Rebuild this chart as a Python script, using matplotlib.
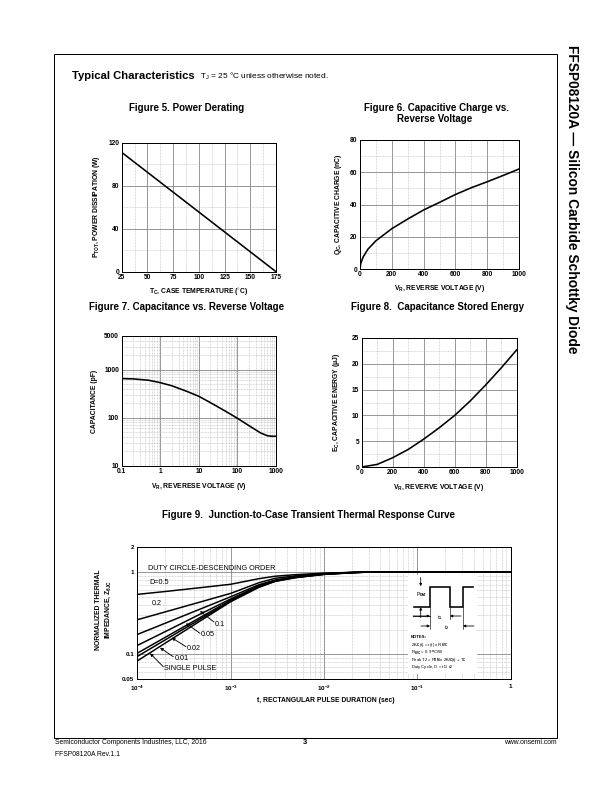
import matplotlib
matplotlib.use('Agg')
import matplotlib.pyplot as plt
from matplotlib.patches import Rectangle

plt.rcParams['font.family'] = ['Liberation Sans', 'DejaVu Sans']
plt.rcParams['mathtext.fontset'] = 'custom'
plt.rcParams['mathtext.rm'] = 'Liberation Sans'
plt.rcParams['mathtext.bf'] = 'Liberation Sans:bold'
plt.rcParams['mathtext.it'] = 'Liberation Sans:italic'
plt.rcParams['mathtext.default'] = 'bf'

# ---------------- data ----------------
fig5_temp = [25, 175]
fig5_power = [111, 0]

fig6_voltage = [0, 5, 20, 50, 100, 200, 300, 400, 500, 600, 700, 800, 900, 1000]
fig6_charge = [0, 3.5, 7.5, 12.3, 17.5, 25, 31, 36.6, 41.3, 46.2, 50.4, 54.1, 58, 62]

fig7_voltage = [0.1, 0.2, 0.5, 1, 2, 5, 10, 20, 50, 100, 200, 400, 600, 800, 1000]
fig7_cap = [650, 640, 600, 535, 460, 350, 278, 205, 135, 97, 68, 48, 42, 41, 41]

fig8_voltage = [0, 100, 200, 300, 400, 500, 600, 700, 800, 900, 1000]
fig8_energy = [0, 0.5, 1.8, 3.4, 5.4, 7.6, 10.0, 12.8, 15.9, 19.2, 22.7]

fig9_t = [1e-4, 2e-4, 5e-4, 1e-3, 2e-3, 3e-3, 5e-3, 1e-2, 2e-2, 3e-2, 1e-1, 1]
fig9_z_d05 = [0.535, 0.58, 0.65, 0.71, 0.83, 0.89, 0.93, 0.97, 0.99, 1.0, 1.0, 1.0]
fig9_z_d02 = [0.263, 0.328, 0.44, 0.55, 0.74, 0.84, 0.90, 0.96, 0.99, 1.0, 1.0, 1.0]
fig9_z_d01 = [0.174, 0.239, 0.364, 0.50, 0.70, 0.80, 0.88, 0.95, 0.99, 1.0, 1.0, 1.0]
fig9_z_d005 = [0.128, 0.189, 0.318, 0.47, 0.68, 0.79, 0.87, 0.945, 0.985, 1.0, 1.0, 1.0]
fig9_z_d002 = [0.103, 0.161, 0.291, 0.455, 0.67, 0.78, 0.865, 0.94, 0.985, 1.0, 1.0, 1.0]
fig9_z_d001 = [0.094, 0.150, 0.278, 0.445, 0.66, 0.775, 0.86, 0.94, 0.98, 1.0, 1.0, 1.0]
fig9_z_single = [0.083, 0.137, 0.265, 0.435, 0.65, 0.77, 0.855, 0.935, 0.98, 1.0, 1.0, 1.0]

# ---------------- figure ----------------
W, H = 612, 792
fig = plt.figure(figsize=(W / 72, H / 72), dpi=72)


def add_ax(x0, y0, x1, y1):
    return fig.add_axes([x0 / W, 1 - y1 / H, (x1 - x0) / W, (y1 - y0) / H])


def T(x, y, s, **kw):
    kw.setdefault('ha', 'center')
    kw.setdefault('va', 'center')
    return fig.text(x / W, 1 - y / H, s, **kw)


def style(ax):
    for s in ax.spines.values():
        s.set_linewidth(1.0)
        s.set_color('black')
    ax.tick_params(which='both', length=0, pad=2.5)
    ax.grid(which='major', color='#808080', lw=0.8, ls='-')
    ax.grid(which='minor', color='#b8b8b8', lw=0.5, ls=(0, (2, 1)))
    ax.set_axisbelow(True)


TL = dict(fontsize=6.6, fontweight='bold')
TL9 = dict(fontsize=6.2, fontweight='bold')
LBL = dict(fontsize=6.8, fontweight='bold')
TTL = dict(fontsize=9.8, fontweight='bold')
LW = 1.6

# ---- Figure 5 ----
ax5 = add_ax(121.7, 142.7, 276, 271.7)
ax5.plot(fig5_temp, fig5_power, color='black', lw=LW, solid_capstyle='butt')
ax5.set_xlim(25, 175)
ax5.set_ylim(0, 120)
ax5.set_xticks([25, 50, 75, 100, 125, 150, 175], ['25', '50', '75', '100', '125', '150', '175'], **TL)
ax5.set_xticks([37.5, 62.5, 87.5, 112.5, 137.5, 162.5], minor=True)
ax5.set_yticks([0, 40, 80, 120], ['0', '40', '80', '120'], **TL)
ax5.set_yticks([20, 60, 100], minor=True)
style(ax5)
T(187, 108.3, 'Figure 5. Power Derating', **TTL)
T(199, 292, r'T$_C$, CASE TEMPERATURE ($^{\circ}$C)', **LBL)
T(97, 207, r'P$_{TOT}$, POWER DISSIPATION (W)', rotation=90, **LBL)

# ---- Figure 6 ----
ax6 = add_ax(360, 140, 519, 269)
ax6.plot(fig6_voltage, fig6_charge, color='black', lw=LW)
ax6.set_xlim(0, 1000)
ax6.set_ylim(0, 80)
ax6.set_xticks([0, 200, 400, 600, 800, 1000], ['0', '200', '400', '600', '800', '1000'], **TL)
ax6.set_xticks([100, 300, 500, 700, 900], minor=True)
ax6.set_yticks([0, 20, 40, 60, 80], ['0', '20', '40', '60', '80'], **TL)
ax6.set_yticks([10, 30, 50, 70], minor=True)
style(ax6)
T(436, 107.8, 'Figure 6. Capacitive Charge vs.', **TTL)
T(435, 118.6, 'Reverse Voltage', **TTL)
T(439.5, 288, r'V$_R$, REVERSE VOLTAGE (V)', **LBL)
T(339, 204.5, r'Q$_C$, CAPACITIVE CHARGE (nC)', rotation=90, **LBL)

# ---- Figure 7 ----
ax7 = add_ax(121.7, 336, 276, 465.7)
ax7.plot(fig7_voltage, fig7_cap, color='black', lw=LW)
ax7.set_xscale('log')
ax7.set_yscale('log')
ax7.set_xlim(0.1, 1000)
ax7.set_ylim(10, 5000)
ax7.set_xticks([0.1, 1, 10, 100, 1000], ['0.1', '1', '10', '100', '1000'], **TL)
ax7.set_yticks([10, 100, 1000, 5000], ['10', '100', '1000', '5000'], **TL)
ax7.xaxis.set_minor_formatter(plt.NullFormatter())
ax7.yaxis.set_minor_formatter(plt.NullFormatter())
style(ax7)
T(187, 307.3, 'Figure 7. Capacitance vs. Reverse Voltage', **TTL)
T(199, 486, r'V$_R$, REVERESE VOLTAGE (V)', **LBL)
T(95, 401, 'CAPACITANCE (pF)', rotation=90, **LBL)

# ---- Figure 8 ----
ax8 = add_ax(361.7, 338, 516.7, 467)
ax8.plot(fig8_voltage, fig8_energy, color='black', lw=LW)
ax8.set_xlim(0, 1000)
ax8.set_ylim(0, 25)
ax8.set_xticks([0, 200, 400, 600, 800, 1000], ['0', '200', '400', '600', '800', '1000'], **TL)
ax8.set_xticks([100, 300, 500, 700, 900], minor=True)
ax8.set_yticks([0, 5, 10, 15, 20, 25], ['0', '5', '10', '15', '20', '25'], **TL)
ax8.set_yticks([2.5, 7.5, 12.5, 17.5, 22.5], minor=True)
style(ax8)
T(437.5, 307.3, 'Figure 8.  Capacitance Stored Energy', **TTL)
T(439, 487, r'V$_R$, REVERVE VOLTAGE (V)', **LBL)
T(337, 402.5, r'E$_C$, CAPACITIVE ENERGY (μJ)', rotation=90, **LBL)

# ---- Figure 9 ----
ax9 = add_ax(137.3, 547.3, 510.7, 679)
for z in [fig9_z_d05, fig9_z_d02, fig9_z_d01, fig9_z_d005, fig9_z_d002, fig9_z_d001, fig9_z_single]:
    ax9.plot(fig9_t, z, color='black', lw=1.5)
ax9.set_xscale('log')
ax9.set_yscale('log')
ax9.set_xlim(1e-4, 1)
ax9.set_ylim(0.05, 2)
ax9.set_xticks([1e-4, 1e-3, 1e-2, 1e-1, 1],
               [r'10$^{-4}$', r'10$^{-3}$', r'10$^{-2}$', r'10$^{-1}$', '1'], **TL9)
ax9.set_yticks([0.05, 0.1, 1, 2], ['0.05', '0.1', '1', '2'], **TL9)
ax9.xaxis.set_minor_formatter(plt.NullFormatter())
ax9.yaxis.set_minor_formatter(plt.NullFormatter())
style(ax9)
ax9.tick_params(axis='x', pad=4.5)
ax9.tick_params(axis='y', pad=3.0)
T(308.3, 515, 'Figure 9.  Junction-to-Case Transient Thermal Response Curve', **TTL)
T(326, 700, 't, RECTANGULAR PULSE DURATION (sec)', **LBL)
T(104, 610, 'NORMALIZED THERMAL\n' + r'IMPEDANCE, Z$_{θJC}$', rotation=90,
  linespacing=1.15, **LBL)

TXT9 = dict(fontsize=7.2, ha='left', va='center')
T(148, 568, 'DUTY CIRCLE-DESCENDING ORDER', **TXT9)
T(149, 583, 'D=0.5', **TXT9)
T(152, 603.5, '0.2', **TXT9)

arrow_kw = dict(arrowstyle='-|>', color='black', lw=0.9, mutation_scale=6,
                shrinkA=0, shrinkB=0)
labels9 = [
    ('0.1', (200, 611), (214, 622), (215, 624)),
    ('0.05', (186, 623.3), (200, 633.3), (201, 635)),
    ('0.02', (171.7, 637.7), (186, 646.7), (187, 648.3)),
    ('0.01', (160, 647.7), (173.3, 656.7), (174.3, 658.5)),
    ('SINGLE PULSE', (150, 653.3), (163.3, 666.7), (164, 668.5)),
]
for s, head, tail, tpos in labels9:
    ax9.annotate('', xy=(head[0], H - head[1]), xycoords='figure pixels',
                 xytext=(tail[0], H - tail[1]), textcoords='figure pixels',
                 arrowprops=arrow_kw)
    T(tpos[0], tpos[1], s, **TXT9)

# ---- decoration overlay (pixel coordinates) ----
deco = fig.add_axes([0, 0, 1, 1], zorder=10)
deco.set_xlim(0, W)
deco.set_ylim(H, 0)
deco.axis('off')

# page border
deco.add_patch(Rectangle((54, 54), 557 - 54, 738 - 54, fill=False, lw=1.0, ec='black'))

# inset box
deco.add_patch(Rectangle((408, 575), 477 - 408, 674 - 575, fc='white', ec='none'))
deco.plot([414, 430, 430, 450, 450, 463, 463, 473],
          [606.7, 606.7, 586.7, 586.7, 606.7, 606.7, 586.7, 586.7],
          color='black', lw=1.6, solid_joinstyle='miter')
ak = dict(arrowstyle='-|>', color='black', lw=0.8, mutation_scale=5, shrinkA=0, shrinkB=0)
deco.annotate('', xy=(420.7, 586.2), xytext=(420.7, 577.5), arrowprops=ak)
deco.annotate('', xy=(420.7, 607.2), xytext=(420.7, 617.5), arrowprops=ak)
deco.annotate('', xy=(430, 616), xytext=(413, 616), arrowprops=ak)
deco.annotate('', xy=(450, 616), xytext=(461, 616), arrowprops=ak)
deco.annotate('', xy=(430, 626), xytext=(421, 626), arrowprops=ak)
deco.annotate('', xy=(463, 626), xytext=(474, 626), arrowprops=ak)
deco.plot([413, 430], [616, 616], color='black', lw=0.8)
deco.plot([430, 430], [607, 629], color='black', lw=0.6)
deco.plot([450, 450], [607, 619], color='black', lw=0.6)
deco.plot([463, 463], [607, 629], color='black', lw=0.6)
deco.text(421, 595, r'P$_{DM}$', fontsize=5, ha='center', va='center')
deco.text(440, 618, r't$_1$', fontsize=5, ha='center', va='center')
deco.text(447, 627.5, r't$_2$', fontsize=5, ha='center', va='center')
NK = dict(fontsize=4.3, ha='left', va='center')
deco.text(411, 637.0, 'NOTES:', fontweight='bold', **NK)
deco.text(411, 645.3, r'Z$_{θJC}$(t) = r(t) x R$_{θJC}$', **NK)
deco.text(411, 652.5, r'R$_{θJC}$ = 0.9 $^o$C/W', **NK)
deco.text(411, 659.7, r'Peak T$_J$ = P$_{DM}$ x Z$_{θJC}$(t) + T$_C$', **NK)
deco.text(411, 666.9, r'Duty Cycle, D = t$_1$ / t$_2$', **NK)

# ---- page text ----
T(72, 79, 'Typical Characteristics', fontsize=11.2, fontweight='bold', ha='left', va='baseline')
T(200, 79, r'T$_{\mathrm{J}}$ = 25 °C unless otherwise noted.', fontsize=8.2, ha='left', va='baseline')
T(572, 45, 'FFSP08120A — Silicon Carbide Schottky Diode', rotation=-90, fontsize=13.8,
  fontweight='bold', ha='center', va='top')
T(55, 743, 'Semiconductor Components Industries, LLC, 2016', fontsize=6.8, ha='left')
T(305, 742, '3', fontsize=7.5, fontweight='bold')
T(557, 743, 'www.onsemi.com', fontsize=6.8, ha='right')
T(55, 754.5, 'FFSP08120A Rev.1.1', fontsize=6.8, ha='left')

fig.savefig('out.png', dpi=72)
